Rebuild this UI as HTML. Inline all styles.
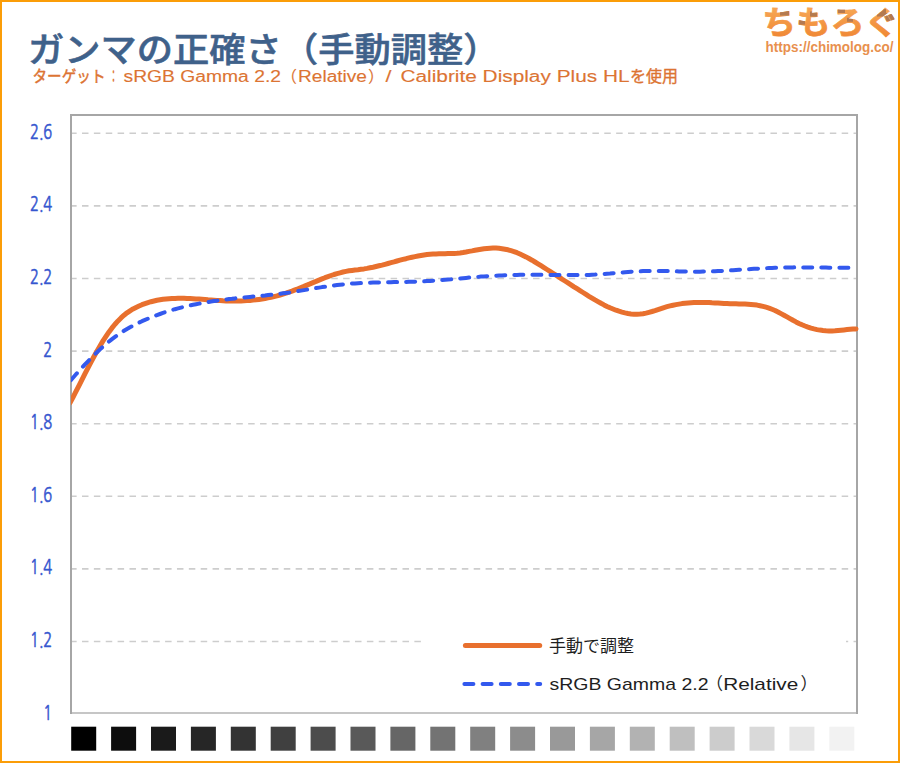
<!DOCTYPE html>
<html><head><meta charset="utf-8">
<style>
html,body{margin:0;padding:0;}
body{width:900px;height:763px;position:relative;overflow:hidden;background:#fff;}
#frame{position:absolute;left:0;top:0;width:900px;height:763px;box-sizing:border-box;border:2px solid #fb9d08;}
svg{position:absolute;left:0;top:0;}
</style></head><body>
<div id="frame"></div>
<svg width="900" height="763" viewBox="0 0 900 763">
 <defs><clipPath id="cp"><rect x="71" y="100" width="790" height="600"/></clipPath></defs>
 <text x="28" y="62" font-size="34" font-weight="500" fill="#3f618a" stroke="#3f618a" stroke-width="0.55" font-family="'Noto Sans CJK JP', sans-serif" textLength="471.5" lengthAdjust="spacingAndGlyphs">ガンマの正確さ（手動調整）</text>
 <g font-size="16" font-weight="400" fill="#dc7433" stroke="#dc7433" stroke-width="0.12" font-family="'Liberation Sans', 'Noto Sans CJK JP', sans-serif"><text x="32.5" y="81.8" textLength="73" lengthAdjust="spacingAndGlyphs" stroke-width="0.45">ターゲット</text><text x="110" y="81.8" textLength="7" lengthAdjust="spacingAndGlyphs" stroke-width="0.8">：</text><text x="123.5" y="81.8" textLength="157.5" lengthAdjust="spacingAndGlyphs">sRGB Gamma 2.2</text><text x="281" y="81.8" textLength="16" lengthAdjust="spacingAndGlyphs">（</text><text x="298" y="81.8" textLength="69" lengthAdjust="spacingAndGlyphs">Relative</text><text x="368" y="81.8" textLength="16" lengthAdjust="spacingAndGlyphs">）</text><text x="385.5" y="81.8" textLength="6" lengthAdjust="spacingAndGlyphs">/</text><text x="400.5" y="81.8" textLength="229" lengthAdjust="spacingAndGlyphs">Calibrite Display Plus HL</text><text x="630" y="81.8" textLength="48" lengthAdjust="spacingAndGlyphs" stroke-width="0.35">を使用</text></g>
 <linearGradient id="lg" x1="0" y1="8" x2="0" y2="37" gradientUnits="userSpaceOnUse"><stop offset="0" stop-color="#f6a654"/><stop offset="1" stop-color="#f08835"/></linearGradient>
 <clipPath id="brn"><rect x="780" y="10.5" width="9" height="5"/><rect x="810" y="11.5" width="7" height="5"/><rect x="798" y="20.5" width="7" height="4"/><rect x="837.5" y="8" width="7.5" height="5"/><rect x="847" y="17.8" width="6" height="4"/><rect x="877" y="9" width="9" height="7.5"/><rect x="885.5" y="13" width="9" height="8"/></clipPath>
 <text x="762" y="34" font-family="'Noto Sans CJK JP', sans-serif" font-weight="700" font-size="32" fill="url(#lg)" stroke="url(#lg)" stroke-width="0.7" textLength="137" lengthAdjust="spacingAndGlyphs">ちもろぐ</text>
 <text x="762" y="34" font-family="'Noto Sans CJK JP', sans-serif" font-weight="700" font-size="32" fill="#b47a50" stroke="#b47a50" stroke-width="0.7" textLength="137" lengthAdjust="spacingAndGlyphs" clip-path="url(#brn)">ちもろぐ</text>
 <text x="765.5" y="51.7" font-family="'Liberation Sans', sans-serif" font-weight="700" font-size="14.5" fill="#e8904e" textLength="128" lengthAdjust="spacingAndGlyphs">https://chimolog.co/</text>

 <g stroke="#cdcdcd" stroke-width="1.6" stroke-dasharray="6.5 5.37" stroke-dashoffset="1.87" fill="none"><line x1="72" y1="133.3" x2="856" y2="133.3"/><line x1="72" y1="205.9" x2="856" y2="205.9"/><line x1="72" y1="278.5" x2="856" y2="278.5"/><line x1="72" y1="351.1" x2="856" y2="351.1"/><line x1="72" y1="423.7" x2="856" y2="423.7"/><line x1="72" y1="496.3" x2="856" y2="496.3"/><line x1="72" y1="568.9" x2="856" y2="568.9"/><line x1="72" y1="641.5" x2="856" y2="641.5"/></g>
 <rect x="423" y="626" width="423" height="78" fill="#fff"/>
 <path d="M71 713 V115 H857 V713" stroke="#a6a6a6" stroke-width="2" fill="none" stroke-linejoin="miter" stroke-linecap="square"/>
 <path d="M72 713 H856" stroke="#c6c6c6" stroke-width="2" fill="none"/>
 <g fill="#3556cf" stroke="#3556cf" stroke-width="0.6" font-family="'NanumGothic', sans-serif" font-weight="400" font-size="20.5" text-anchor="end"><text transform="translate(52.3 138.8) scale(0.72 1)">2.6</text><text transform="translate(52.3 211.4) scale(0.72 1)">2.4</text><text transform="translate(52.3 284.0) scale(0.72 1)">2.2</text><text transform="translate(52.3 356.6) scale(0.72 1)">2</text><text transform="translate(52.3 429.2) scale(0.72 1)">1.8</text><text transform="translate(52.3 501.8) scale(0.72 1)">1.6</text><text transform="translate(52.3 574.4) scale(0.72 1)">1.4</text><text transform="translate(52.3 647.0) scale(0.72 1)">1.2</text><text transform="translate(52.3 719.6) scale(0.72 1)">1</text></g>
 <path d="M70.0 402.8 L73.0 397.2 L76.0 391.4 L79.0 385.6 L82.0 379.6 L85.0 373.7 L88.0 367.9 L91.0 362.1 L94.0 356.5 L97.0 351.1 L100.0 345.9 L103.0 340.9 L106.0 336.3 L109.0 331.9 L112.0 327.9 L115.0 324.2 L118.0 320.9 L121.0 317.9 L124.0 315.2 L127.0 312.8 L130.0 310.8 L133.0 308.9 L136.0 307.4 L139.0 306.0 L142.0 304.7 L145.0 303.6 L148.0 302.6 L151.0 301.7 L154.0 301.0 L157.0 300.3 L160.0 299.8 L163.0 299.3 L166.0 299.0 L169.0 298.7 L172.0 298.5 L175.0 298.4 L178.0 298.3 L181.0 298.3 L184.0 298.3 L187.0 298.4 L190.0 298.5 L193.0 298.7 L196.0 298.9 L199.0 299.1 L202.0 299.3 L205.0 299.5 L208.0 299.8 L211.0 300.0 L214.0 300.2 L217.0 300.4 L220.0 300.6 L223.0 300.8 L226.0 300.9 L229.0 301.0 L232.0 301.0 L235.0 301.0 L238.0 301.0 L241.0 300.9 L244.0 300.8 L247.0 300.6 L250.0 300.4 L253.0 300.1 L256.0 299.8 L259.0 299.4 L262.0 299.0 L265.0 298.5 L268.0 297.9 L271.0 297.3 L274.0 296.6 L277.0 295.9 L280.0 295.0 L283.0 294.1 L286.0 293.2 L289.0 292.1 L292.0 291.1 L295.0 289.9 L298.0 288.8 L301.0 287.6 L304.0 286.4 L307.0 285.1 L310.0 283.9 L313.0 282.6 L316.0 281.4 L319.0 280.1 L322.0 278.9 L325.0 277.7 L328.0 276.6 L331.0 275.5 L334.0 274.5 L337.0 273.6 L340.0 272.8 L343.0 272.0 L346.0 271.4 L349.0 270.8 L352.0 270.4 L355.0 270.0 L358.0 269.7 L361.0 269.3 L364.0 268.9 L367.0 268.4 L370.0 267.8 L373.0 267.2 L376.0 266.5 L379.0 265.8 L382.0 265.1 L385.0 264.3 L388.0 263.5 L391.0 262.7 L394.0 261.9 L397.0 261.0 L400.0 260.2 L403.0 259.4 L406.0 258.7 L409.0 257.9 L412.0 257.2 L415.0 256.6 L418.0 256.0 L421.0 255.5 L424.0 255.0 L427.0 254.6 L430.0 254.3 L433.0 254.1 L436.0 253.9 L439.0 253.8 L442.0 253.8 L445.0 253.7 L448.0 253.6 L451.0 253.5 L454.0 253.4 L457.0 253.2 L460.0 252.9 L463.0 252.5 L466.0 252.0 L469.0 251.4 L472.0 250.9 L475.0 250.3 L478.0 249.7 L481.0 249.2 L484.0 248.7 L487.0 248.4 L490.0 248.2 L493.0 248.1 L496.0 248.1 L499.0 248.3 L502.0 248.7 L505.0 249.2 L508.0 249.8 L511.0 250.7 L514.0 251.6 L517.0 252.7 L520.0 254.0 L523.0 255.4 L526.0 256.9 L529.0 258.5 L532.0 260.2 L535.0 262.0 L538.0 263.8 L541.0 265.7 L544.0 267.6 L547.0 269.5 L550.0 271.4 L553.0 273.3 L556.0 275.2 L559.0 277.1 L562.0 279.1 L565.0 281.0 L568.0 282.9 L571.0 284.8 L574.0 286.8 L577.0 288.7 L580.0 290.6 L583.0 292.5 L586.0 294.4 L589.0 296.3 L592.0 298.1 L595.0 299.9 L598.0 301.6 L601.0 303.3 L604.0 304.9 L607.0 306.4 L610.0 307.8 L613.0 309.0 L616.0 310.2 L619.0 311.2 L622.0 312.1 L625.0 312.9 L628.0 313.5 L631.0 313.9 L634.0 314.2 L637.0 314.2 L640.0 314.0 L643.0 313.7 L646.0 313.1 L649.0 312.3 L652.0 311.5 L655.0 310.6 L658.0 309.6 L661.0 308.6 L664.0 307.6 L667.0 306.7 L670.0 305.9 L673.0 305.2 L676.0 304.6 L679.0 304.1 L682.0 303.6 L685.0 303.2 L688.0 302.9 L691.0 302.7 L694.0 302.6 L697.0 302.5 L700.0 302.4 L703.0 302.4 L706.0 302.5 L709.0 302.6 L712.0 302.8 L715.0 302.9 L718.0 303.1 L721.0 303.3 L724.0 303.5 L727.0 303.6 L730.0 303.7 L733.0 303.8 L736.0 303.8 L739.0 303.9 L742.0 303.9 L745.0 304.0 L748.0 304.2 L751.0 304.4 L754.0 304.7 L757.0 305.1 L760.0 305.7 L763.0 306.4 L766.0 307.2 L769.0 308.1 L772.0 309.3 L775.0 310.5 L778.0 312.0 L781.0 313.6 L784.0 315.2 L787.0 316.9 L790.0 318.6 L793.0 320.3 L796.0 321.9 L799.0 323.4 L802.0 324.8 L805.0 326.0 L808.0 327.1 L811.0 328.1 L814.0 328.9 L817.0 329.6 L820.0 330.1 L823.0 330.5 L826.0 330.8 L829.0 330.9 L832.0 330.9 L835.0 330.8 L838.0 330.5 L841.0 330.2 L844.0 329.9 L847.0 329.6 L850.0 329.3 L853.0 329.0 L856.0 328.9" stroke="#e8702e" stroke-width="5" fill="none" stroke-linecap="round" stroke-linejoin="round" clip-path="url(#cp)"/>
 <path d="M70.0 381.1 L73.0 377.7 L76.0 374.3 L79.0 371.0 L82.0 367.7 L85.0 364.4 L88.0 361.3 L91.0 358.2 L94.0 355.1 L97.0 352.2 L100.0 349.4 L103.0 346.6 L106.0 344.0 L109.0 341.5 L112.0 339.1 L115.0 336.9 L118.0 334.7 L121.0 332.7 L124.0 330.8 L127.0 329.0 L130.0 327.3 L133.0 325.7 L136.0 324.1 L139.0 322.6 L142.0 321.2 L145.0 319.9 L148.0 318.6 L151.0 317.4 L154.0 316.2 L157.0 315.1 L160.0 314.0 L163.0 312.9 L166.0 311.9 L169.0 311.0 L172.0 310.1 L175.0 309.2 L178.0 308.4 L181.0 307.6 L184.0 306.8 L187.0 306.1 L190.0 305.4 L193.0 304.8 L196.0 304.2 L199.0 303.6 L202.0 303.0 L205.0 302.5 L208.0 302.0 L211.0 301.5 L214.0 301.1 L217.0 300.7 L220.0 300.2 L223.0 299.8 L226.0 299.5 L229.0 299.1 L232.0 298.8 L235.0 298.4 L238.0 298.1 L241.0 297.8 L244.0 297.5 L247.0 297.2 L250.0 296.9 L253.0 296.6 L256.0 296.4 L259.0 296.1 L262.0 295.8 L265.0 295.5 L268.0 295.1 L271.0 294.8 L274.0 294.5 L277.0 294.1 L280.0 293.7 L283.0 293.3 L286.0 292.9 L289.0 292.5 L292.0 292.0 L295.0 291.6 L298.0 291.1 L301.0 290.6 L304.0 290.1 L307.0 289.6 L310.0 289.1 L313.0 288.6 L316.0 288.1 L319.0 287.6 L322.0 287.1 L325.0 286.7 L328.0 286.2 L331.0 285.8 L334.0 285.4 L337.0 285.0 L340.0 284.7 L343.0 284.4 L346.0 284.1 L349.0 283.9 L352.0 283.6 L355.0 283.4 L358.0 283.2 L361.0 283.1 L364.0 282.9 L367.0 282.8 L370.0 282.7 L373.0 282.6 L376.0 282.5 L379.0 282.4 L382.0 282.4 L385.0 282.3 L388.0 282.3 L391.0 282.2 L394.0 282.1 L397.0 282.1 L400.0 282.0 L403.0 282.0 L406.0 281.9 L409.0 281.8 L412.0 281.7 L415.0 281.7 L418.0 281.5 L421.0 281.4 L424.0 281.3 L427.0 281.1 L430.0 280.9 L433.0 280.7 L436.0 280.5 L439.0 280.3 L442.0 280.1 L445.0 279.8 L448.0 279.5 L451.0 279.3 L454.0 279.0 L457.0 278.7 L460.0 278.5 L463.0 278.2 L466.0 277.9 L469.0 277.6 L472.0 277.4 L475.0 277.1 L478.0 276.9 L481.0 276.6 L484.0 276.4 L487.0 276.2 L490.0 276.0 L493.0 275.8 L496.0 275.7 L499.0 275.5 L502.0 275.4 L505.0 275.2 L508.0 275.1 L511.0 275.0 L514.0 274.9 L517.0 274.9 L520.0 274.8 L523.0 274.8 L526.0 274.7 L529.0 274.7 L532.0 274.7 L535.0 274.7 L538.0 274.7 L541.0 274.7 L544.0 274.8 L547.0 274.8 L550.0 274.9 L553.0 274.9 L556.0 275.0 L559.0 275.0 L562.0 275.0 L565.0 275.1 L568.0 275.1 L571.0 275.1 L574.0 275.1 L577.0 275.1 L580.0 275.1 L583.0 275.0 L586.0 275.0 L589.0 274.9 L592.0 274.7 L595.0 274.6 L598.0 274.4 L601.0 274.2 L604.0 274.0 L607.0 273.7 L610.0 273.5 L613.0 273.2 L616.0 273.0 L619.0 272.7 L622.0 272.5 L625.0 272.2 L628.0 272.0 L631.0 271.8 L634.0 271.6 L637.0 271.4 L640.0 271.3 L643.0 271.1 L646.0 271.0 L649.0 271.0 L652.0 270.9 L655.0 270.9 L658.0 270.9 L661.0 271.0 L664.0 271.0 L667.0 271.1 L670.0 271.1 L673.0 271.2 L676.0 271.3 L679.0 271.4 L682.0 271.5 L685.0 271.5 L688.0 271.6 L691.0 271.6 L694.0 271.7 L697.0 271.7 L700.0 271.7 L703.0 271.6 L706.0 271.6 L709.0 271.5 L712.0 271.4 L715.0 271.3 L718.0 271.1 L721.0 271.0 L724.0 270.8 L727.0 270.6 L730.0 270.4 L733.0 270.2 L736.0 270.0 L739.0 269.8 L742.0 269.6 L745.0 269.4 L748.0 269.2 L751.0 269.0 L754.0 268.8 L757.0 268.7 L760.0 268.5 L763.0 268.3 L766.0 268.2 L769.0 268.0 L772.0 267.9 L775.0 267.8 L778.0 267.7 L781.0 267.6 L784.0 267.5 L787.0 267.4 L790.0 267.4 L793.0 267.4 L796.0 267.3 L799.0 267.3 L802.0 267.4 L805.0 267.4 L808.0 267.4 L811.0 267.4 L814.0 267.5 L817.0 267.5 L820.0 267.6 L823.0 267.6 L826.0 267.6 L829.0 267.7 L832.0 267.7 L835.0 267.7 L838.0 267.7 L841.0 267.7 L844.0 267.7 L847.0 267.7 L850.0 267.7 L853.0 267.6 L856.0 267.5 L857.0 267.5" stroke="#3359ee" stroke-width="4" fill="none" stroke-linecap="round" stroke-linejoin="round" stroke-dasharray="9 9.075" stroke-dashoffset="-1.35" clip-path="url(#cp)"/>
 <line x1="465.4" y1="645.6" x2="539.7" y2="645.6" stroke="#e8702e" stroke-width="5" stroke-linecap="round"/>
 <line x1="464.4" y1="684" x2="540.2" y2="684" stroke="#3359ee" stroke-width="4" stroke-linecap="round" stroke-dasharray="9 9.2"/>
 <g font-family="'Liberation Sans', 'Noto Sans CJK JP', sans-serif" font-size="17" fill="#1e1e1e">
  <text x="549" y="652" textLength="85" lengthAdjust="spacingAndGlyphs">手動で調整</text>
  <text x="549.5" y="690" textLength="159" lengthAdjust="spacingAndGlyphs">sRGB Gamma 2.2</text>
  <text x="706" y="690" textLength="17" lengthAdjust="spacingAndGlyphs">（</text>
  <text x="723.2" y="690" textLength="75" lengthAdjust="spacingAndGlyphs">Relative</text>
  <text x="800.4" y="690" textLength="17" lengthAdjust="spacingAndGlyphs">）</text>
 </g>
 <rect x="71.2" y="726.7" width="25" height="24" fill="rgb(0,0,0)"/><rect x="111.1" y="726.7" width="25" height="24" fill="rgb(13,13,13)"/><rect x="151.0" y="726.7" width="25" height="24" fill="rgb(26,26,26)"/><rect x="190.9" y="726.7" width="25" height="24" fill="rgb(38,38,38)"/><rect x="230.8" y="726.7" width="25" height="24" fill="rgb(51,51,51)"/><rect x="270.7" y="726.7" width="25" height="24" fill="rgb(64,64,64)"/><rect x="310.6" y="726.7" width="25" height="24" fill="rgb(76,76,76)"/><rect x="350.5" y="726.7" width="25" height="24" fill="rgb(89,89,89)"/><rect x="390.4" y="726.7" width="25" height="24" fill="rgb(102,102,102)"/><rect x="430.3" y="726.7" width="25" height="24" fill="rgb(115,115,115)"/><rect x="470.2" y="726.7" width="25" height="24" fill="rgb(128,128,128)"/><rect x="510.1" y="726.7" width="25" height="24" fill="rgb(140,140,140)"/><rect x="550.0" y="726.7" width="25" height="24" fill="rgb(153,153,153)"/><rect x="589.9" y="726.7" width="25" height="24" fill="rgb(166,166,166)"/><rect x="629.8" y="726.7" width="25" height="24" fill="rgb(178,178,178)"/><rect x="669.7" y="726.7" width="25" height="24" fill="rgb(191,191,191)"/><rect x="709.6" y="726.7" width="25" height="24" fill="rgb(204,204,204)"/><rect x="749.5" y="726.7" width="25" height="24" fill="rgb(217,217,217)"/><rect x="789.4" y="726.7" width="25" height="24" fill="rgb(230,230,230)"/><rect x="829.3" y="726.7" width="25" height="24" fill="rgb(242,242,242)"/>
</svg>
</body></html>
